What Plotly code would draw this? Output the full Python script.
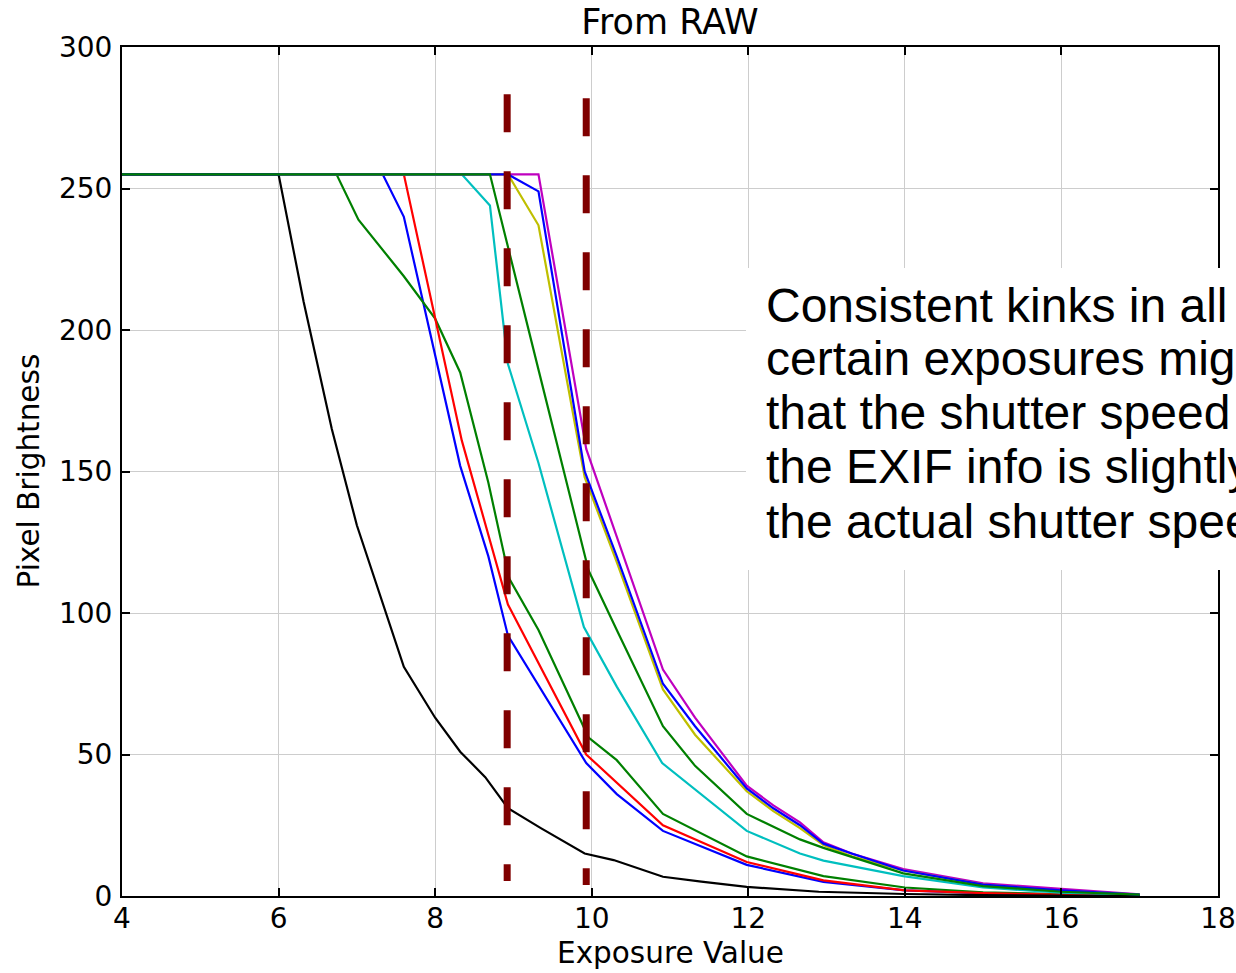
import plotly.graph_objects as go

# Measured pixel brightness vs. exposure value, one curve per sample patch
blue_a_x = [4, 7.33, 7.6, 8.32, 8.68, 8.93, 9.93, 10.32, 10.91, 11.98, 12.96, 14.0, 15.0, 16.0, 17.0]
blue_a_y = [255, 255, 240, 152, 120, 92, 47, 36, 23, 11, 5, 2, 1, 0.5, 0.2]

green_a_x = [4, 6.74, 7.02, 7.6, 8.0, 8.32, 8.68, 8.95, 9.32, 9.96, 10.32, 10.91, 11.98, 12.96, 14.0, 15.0, 16.0, 17.0]
green_a_y = [255, 255, 239, 219, 204, 185, 146, 112, 94, 56, 48, 29, 14, 7, 3, 1.3, 0.6, 0.2]

red_x = [4, 7.6, 8.34, 8.93, 9.93, 10.32, 10.91, 11.98, 12.96, 14.0, 15.0, 16.0, 17.0]
red_y = [255, 255, 161, 103, 50, 40, 25, 12, 5.5, 2, 1, 0.5, 0.2]

cyan_x = [4, 8.34, 8.70, 8.93, 9.32, 9.90, 10.32, 10.90, 11.98, 12.66, 12.96, 13.98, 15.0, 16.0, 17.0]
cyan_y = [255, 255, 244, 188, 153, 95, 74, 47, 23, 15, 12.5, 7, 3, 1.2, 0.4]

magenta_x = [4, 9.32, 9.93, 10.32, 10.91, 11.32, 11.98, 12.32, 12.66, 12.96, 13.32, 13.98, 15.0, 16.0, 17.0]
magenta_y = [255, 255, 158, 127, 80, 63, 39, 32, 26, 19, 15, 9.5, 4.5, 2.5, 0.6]

yellow_x = [4, 8.93, 9.32, 9.91, 10.32, 10.91, 11.32, 11.98, 12.32, 12.66, 12.96, 13.32, 13.98, 15.0, 16.0, 17.0]
yellow_y = [255, 255, 237, 148, 118, 73, 57, 37, 30, 24, 18, 14, 9, 4, 1.8, 0.5]

black_x = [4, 6.0, 6.32, 6.68, 7.0, 7.6, 8.0, 8.32, 8.64, 8.93, 9.35, 9.91, 10.28, 10.91, 11.4, 11.98, 12.9, 14.0, 15.0, 16.0, 17.0]
black_y = [255, 255, 210, 165, 131, 81, 63, 51, 42, 31, 24, 15, 12.7, 6.8, 5.1, 3.2, 1.5, 0.7, 0.3, 0.1, 0]

blue_b_x = [4, 8.93, 9.32, 9.91, 10.32, 10.91, 11.32, 11.98, 12.32, 12.66, 12.96, 13.32, 13.98, 15.0, 16.0, 17.0]
blue_b_y = [255, 255, 249, 150, 120, 75, 60, 38, 31, 25, 18.5, 15, 9, 4, 2, 0.5]

green_b_x = [4, 8.70, 9.32, 9.96, 10.32, 10.91, 11.32, 11.98, 12.66, 12.96, 13.98, 15.0, 16.0, 17.0]
green_b_y = [255, 255, 186, 115, 94, 60, 46, 29, 20, 17, 8, 3.5, 1.5, 0.5]

# Exposure values where every curve bends
kink_ev = [8.92, 9.93]
kink_top = [283.3, 281.9]
kink_bottom = [5.3, 3.9]

x_ticks = [4, 6, 8, 10, 12, 14, 16, 18]
y_ticks = [0, 50, 100, 150, 200, 250, 300]

note_lines = [
    "Consistent kinks in all curves at",
    "certain exposures might indicate",
    "that the shutter speed reported in",
    "the EXIF info is slightly off from",
    "the actual shutter speed.",
]

series = [
    (blue_a_x, blue_a_y, "#0000ff"),
    (green_a_x, green_a_y, "#008000"),
    (red_x, red_y, "#ff0000"),
    (cyan_x, cyan_y, "#00bfbf"),
    (magenta_x, magenta_y, "#bf00bf"),
    (yellow_x, yellow_y, "#bfbf00"),
    (black_x, black_y, "#000000"),
    (blue_b_x, blue_b_y, "#0000ff"),
    (green_b_x, green_b_y, "#008000"),
]

fig = go.Figure()
for xs, ys, color in series:
    fig.add_trace(go.Scatter(x=xs, y=ys, mode="lines",
                             line=dict(color=color, width=2.2),
                             showlegend=False, hoverinfo="skip"))

for ev, top, bottom in zip(kink_ev, kink_top, kink_bottom):
    fig.add_trace(go.Scatter(x=[ev, ev], y=[top, bottom], mode="lines",
                             line=dict(color="#800000", width=7, dash="38px,39px"),
                             showlegend=False, hoverinfo="skip"))

W, H = 1236, 973
L, R, T, B = 122, 18, 47, 77
plot_w = W - L - R
plot_h = H - T - B


def px_to_paper_x(px):
    return (px - L) / plot_w


def px_to_paper_y(py):
    return (H - B - py) / plot_h


# white box behind the note
fig.add_shape(type="rect", xref="paper", yref="paper",
              x0=px_to_paper_x(746), x1=1.3,
              y0=px_to_paper_y(570), y1=px_to_paper_y(268),
              fillcolor="white", line=dict(width=0), layer="above")

for i, text in enumerate(note_lines):
    fig.add_annotation(text=text, xref="paper", yref="paper",
                       x=px_to_paper_x(764), y=px_to_paper_y(305 + 54 * i),
                       xanchor="left", yanchor="middle", showarrow=False,
                       font=dict(family="Liberation Sans, Arial", size=48, color="black"))

label_font = dict(family="DejaVu Sans", size=29.5, color="black")

# axis titles placed as rotated / centred text
fig.add_annotation(text="Pixel Brightness", xref="paper", yref="paper",
                   x=px_to_paper_x(28), y=0.5, xanchor="center", yanchor="middle",
                   textangle=-90, showarrow=False, font=label_font)
fig.add_annotation(text="Exposure Value", xref="paper", yref="paper",
                   x=0.5, y=px_to_paper_y(953), xanchor="center", yanchor="middle",
                   showarrow=False, font=label_font)

axis_common = dict(
    showgrid=True, gridcolor="#cdcdcd", gridwidth=1,
    showline=True, linecolor="black", linewidth=2, mirror="allticks",
    ticks="inside", ticklen=8, tickwidth=1.5, tickcolor="black",
    zeroline=False, automargin=False,
    tickfont=dict(family="DejaVu Sans", size=28, color="black"),
)

fig.update_xaxes(range=[4, 18], tickvals=x_ticks, ticktext=[str(v) for v in x_ticks],
                 ticklabelstandoff=-4, **axis_common)
fig.update_yaxes(range=[0, 300], tickvals=y_ticks, ticktext=[str(v) for v in y_ticks],
                 ticklabelstandoff=2, **axis_common)

fig.update_layout(
    width=W, height=H,
    margin=dict(l=L, r=R, t=T, b=B, autoexpand=False),
    paper_bgcolor="white", plot_bgcolor="white",
    title=dict(text="From RAW", x=(L + plot_w / 2) / W, xanchor="center",
               y=1 - 22 / H, yanchor="middle",
               font=dict(family="DejaVu Sans", size=35, color="black")),
)

fig.write_html("out.html")
